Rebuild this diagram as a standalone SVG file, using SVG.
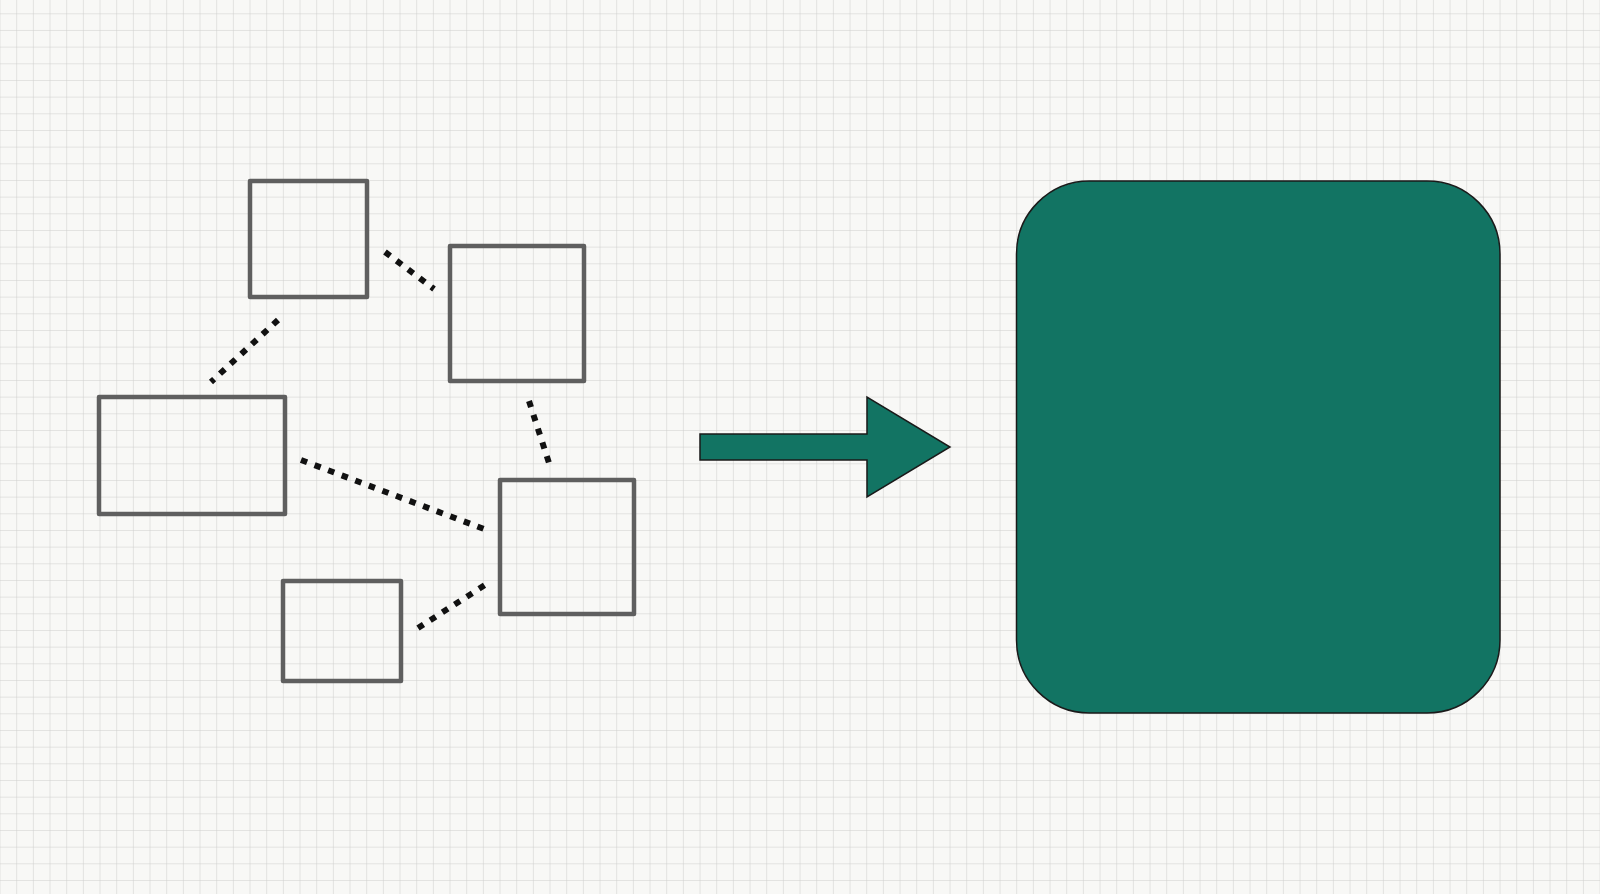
<svg xmlns="http://www.w3.org/2000/svg" width="1600" height="894" viewBox="0 0 1600 894">
<defs>
<pattern id="grid" x="0.5" y="13.3" width="16.667" height="16.667" patternUnits="userSpaceOnUse">
<path d="M16.667 0V16.667M0 0H16.667" fill="none" stroke="#cdcdcb" stroke-width="1"/>
</pattern>
<style>
.box{fill:none;stroke:#5f5f5f;stroke-width:4.5;stroke-linejoin:round}
.dot{stroke:#111;stroke-width:6;stroke-dasharray:6.5 8;fill:none}
.teal{fill:#127463;stroke:#1a1a1a;stroke-width:1.5;stroke-linejoin:miter}
</style>
</defs>
<rect width="1600" height="894" fill="#f8f8f6"/>
<rect width="1600" height="894" fill="url(#grid)"/>
<g id="connectors">
<line class="dot" x1="385" y1="252" x2="434" y2="289"/>
<line class="dot" x1="278" y1="320" x2="211" y2="382"/>
<line class="dot" x1="529" y1="401" x2="549" y2="463"/>
<line class="dot" x1="301" y1="460" x2="484" y2="529"/>
<line class="dot" x1="418" y1="628" x2="485" y2="585"/>
</g>
<g id="node1"><rect class="box" x="250" y="181" width="117" height="116"/></g>
<g id="node2"><rect class="box" x="450" y="246" width="134" height="135"/></g>
<g id="node3"><rect class="box" x="99" y="397" width="186" height="117"/></g>
<g id="node4"><rect class="box" x="500" y="480" width="134" height="134"/></g>
<g id="node5"><rect class="box" x="283" y="581" width="118" height="100"/></g>
<g id="arrow"><polygon class="teal" points="700,434 867,434 867,397 950,447 867,497 867,460 700,460"/></g>
<g id="target"><rect class="teal" x="1016.5" y="181" width="483.5" height="532" rx="73" ry="73"/></g>
</svg>
